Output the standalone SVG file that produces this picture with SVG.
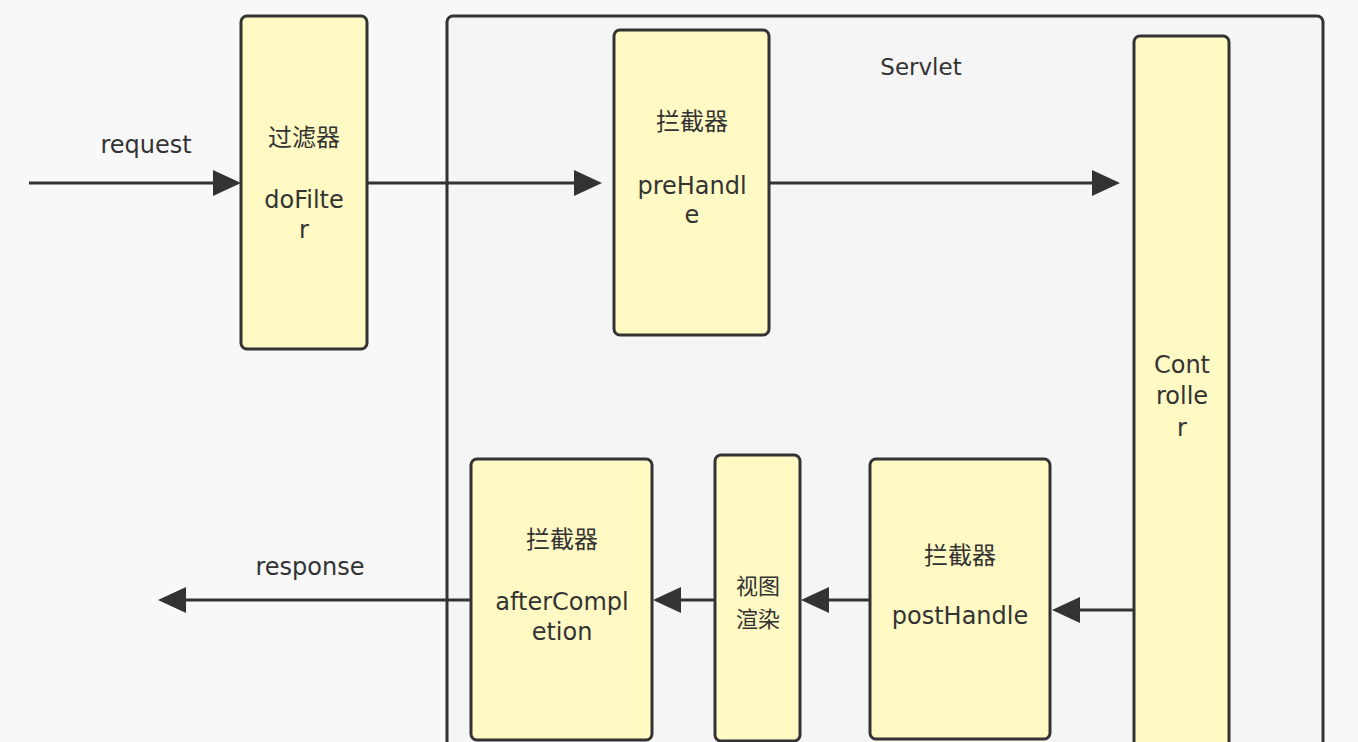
<svg xmlns="http://www.w3.org/2000/svg" width="1358" height="742" viewBox="0 0 1358 742">
<defs>
<style>
.node{fill:#fff9c4;stroke:#333;stroke-width:3}
.t{font-family:"DejaVu Sans","Noto Sans CJK SC",sans-serif;font-size:24px;fill:#333;text-anchor:middle}
.c{font-family:"Noto Sans CJK SC",sans-serif;font-size:24px;fill:#333;text-anchor:middle}
.e{stroke:#333;stroke-width:3;fill:none}
.h{fill:#333}
</style>
</defs>
<rect width="1358" height="742" fill="#f8f8f8"/>
<g id="servlet">
<rect x="447" y="16" width="876" height="760" rx="6" fill="#f5f5f5" stroke="#333" stroke-width="3"/>
<text class="t" x="921" y="75" style="font-size:23px">Servlet</text>
</g>
<g id="connectors">
<line class="e" x1="29" y1="183" x2="220" y2="183"/>
<path class="h" d="M213,170 L241,183 L213,196 z"/>
<line class="e" x1="367" y1="183" x2="580" y2="183"/>
<path class="h" d="M574,170 L602,183 L574,196 z"/>
<line class="e" x1="769" y1="183" x2="1100" y2="183"/>
<path class="h" d="M1092,170 L1120,183 L1092,196 z"/>
<line class="e" x1="1134" y1="610" x2="1070" y2="610"/>
<path class="h" d="M1080,597 L1052,610 L1080,623 z"/>
<line class="e" x1="870" y1="600" x2="820" y2="600"/>
<path class="h" d="M829,587 L801,600 L829,613 z"/>
<line class="e" x1="715" y1="600" x2="670" y2="600"/>
<path class="h" d="M681,587 L653,600 L681,613 z"/>
<line class="e" x1="471" y1="600" x2="175" y2="600"/>
<path class="h" d="M186,587 L158,600 L186,613 z"/>
<text class="t" x="146" y="153">request</text>
<text class="t" x="310" y="575">response</text>
</g>
<g id="filter">
<rect class="node" x="241" y="16" width="126" height="333" rx="6"/>
<text class="c" x="304" y="146">过滤器</text>
<text class="t" x="304" y="208">doFilte</text>
<text class="t" x="304" y="238">r</text>
</g>
<g id="preHandle">
<rect class="node" x="614" y="30" width="155" height="305" rx="6"/>
<text class="c" x="692" y="130">拦截器</text>
<text class="t" x="692" y="194">preHandl</text>
<text class="t" x="692" y="223">e</text>
</g>
<g id="controller">
<rect class="node" x="1134" y="36" width="95" height="740" rx="6"/>
<text class="t" x="1182" y="373">Cont</text>
<text class="t" x="1182" y="404">rolle</text>
<text class="t" x="1182" y="436">r</text>
</g>
<g id="afterCompletion">
<rect class="node" x="471" y="459" width="181" height="281" rx="6"/>
<text class="c" x="562" y="548">拦截器</text>
<text class="t" x="562" y="610">afterCompl</text>
<text class="t" x="562" y="640">etion</text>
</g>
<g id="render">
<rect class="node" x="715" y="455" width="85" height="286" rx="6"/>
<text class="c" x="758" y="594" style="font-size:22px">视图</text>
<text class="c" x="758" y="627" style="font-size:22px">渲染</text>
</g>
<g id="postHandle">
<rect class="node" x="870" y="459" width="180" height="280" rx="6"/>
<text class="c" x="960" y="564">拦截器</text>
<text class="t" x="960" y="624">postHandle</text>
</g>
</svg>
